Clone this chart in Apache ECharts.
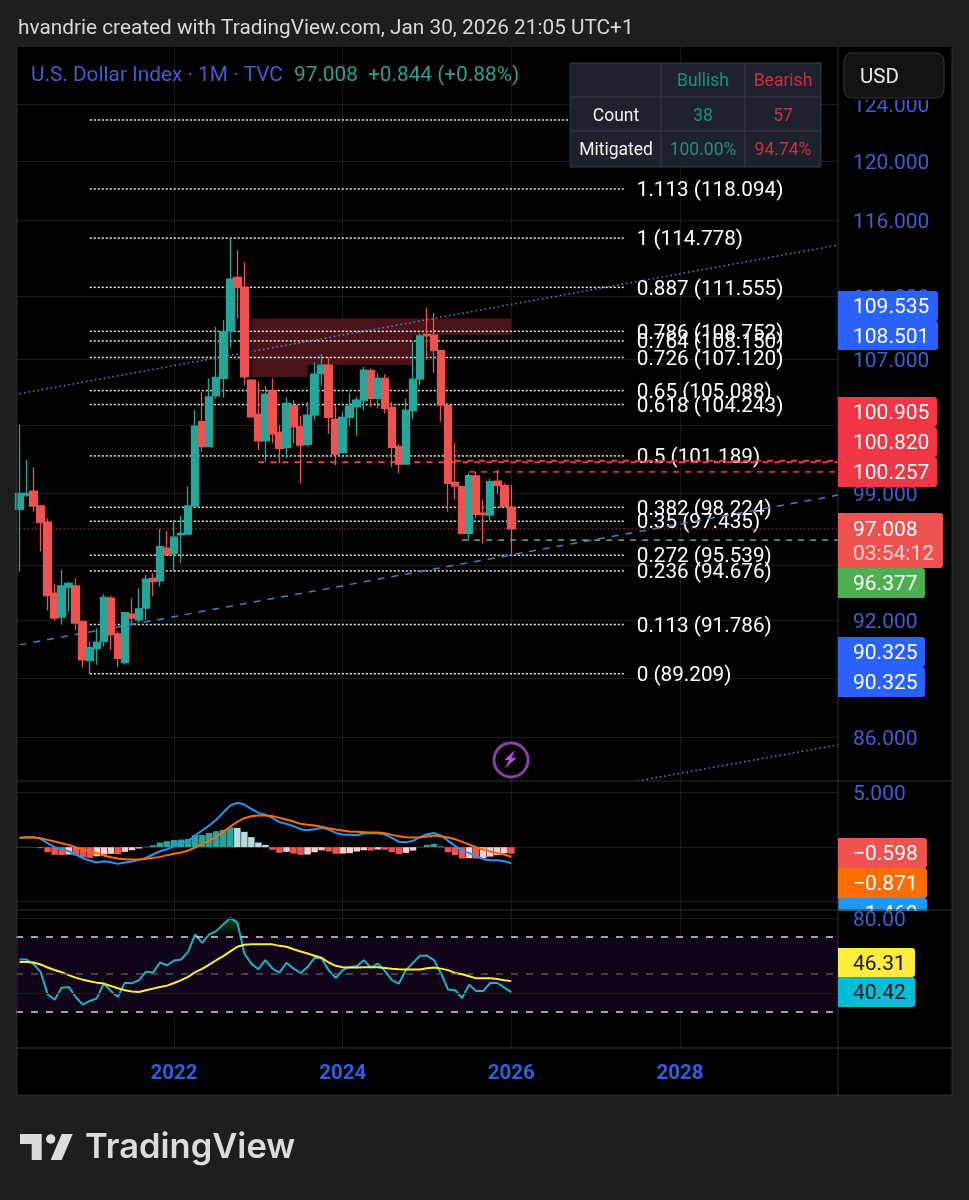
<!DOCTYPE html>
<html>
<head>
<meta charset="utf-8">
<style>html,body{margin:0;padding:0;background:#1e1e1e}#chart{width:969px;height:1200px}</style>
<script src="https://cdn.jsdelivr.net/npm/echarts@6/dist/echarts.min.js"></script>
</head>
<body>
<div id="chart"></div>
<script>
// monthly candles, Mar 2020 .. Jan 2026
var candleOpen = [98.11,98.92,99.15,98.30,97.38,93.46,92.18,93.76,93.86,91.94,89.89,90.52,90.89,93.19,91.29,89.79,92.34,92.03,92.66,94.27,94.13,95.93,95.65,96.67,96.72,98.30,103.21,101.73,104.77,105.83,108.77,112.20,111.53,105.73,103.65,102.08,105.07,102.58,101.68,104.17,102.91,101.87,103.61,106.13,106.65,103.35,101.38,103.47,104.11,104.47,106.30,104.61,105.83,104.07,101.73,100.71,103.87,105.79,108.56,108.52,107.54,104.17,99.65,99.40,96.76,100.02,97.89,97.79,99.73,99.46,98.22];
var candleClose = [99.02,99.02,98.30,97.38,93.33,92.13,93.86,94.00,91.86,89.93,90.57,90.85,93.23,91.24,90.01,92.42,92.13,92.62,94.22,94.09,96.02,95.56,96.54,96.76,98.30,102.95,101.73,104.71,105.89,108.73,112.08,111.56,105.93,103.51,102.08,104.87,102.48,101.64,104.31,102.91,101.83,103.61,106.09,106.65,103.47,101.30,103.47,104.15,104.51,106.34,104.61,105.83,104.01,101.70,100.71,103.91,105.79,108.47,108.47,107.54,104.21,99.59,99.44,96.76,100.04,97.83,97.81,99.69,99.46,98.26,97.008];
var candleLow = [94.64,98.82,97.97,95.74,92.53,92.00,91.77,92.48,91.50,89.53,89.19,89.67,90.62,90.45,89.55,89.67,91.77,91.86,92.03,93.28,93.82,95.56,94.64,95.13,96.67,98.25,101.44,101.70,104.61,104.65,107.75,109.57,105.42,103.45,101.54,100.85,101.93,100.76,101.05,101.93,99.59,101.73,103.31,105.38,102.48,100.66,101.34,102.95,102.38,103.91,104.11,104.01,103.71,100.53,100.18,100.68,103.38,105.42,107.00,106.17,103.21,97.97,98.69,96.72,96.35,97.60,96.21,97.47,98.98,98.30,95.56];
var candleHigh = [103.01,100.95,100.53,98.35,97.60,93.97,94.73,94.09,94.27,91.98,90.89,91.59,93.41,93.33,91.41,92.45,93.19,93.73,94.46,94.55,96.99,96.89,97.51,97.73,99.40,103.91,105.01,105.83,109.03,109.46,114.76,113.98,113.18,105.78,105.62,105.37,105.83,103.01,104.67,104.51,103.55,104.41,106.82,107.33,107.12,104.21,103.81,104.92,104.71,106.55,106.44,106.13,106.09,104.41,101.89,104.61,108.10,108.62,110.24,109.89,107.58,104.35,101.93,99.44,100.18,100.27,98.64,99.88,100.37,99.59,99.50];

var macdLine = [.86,.92,.92,.76,.37,0,-.15,-.37,-.67,-1.01,-1.22,-1.41,-1.28,-1.38,-1.53,-1.41,-1.31,-1.16,-.98,-.67,-.37,-.18,.09,.37,.55,1.07,1.53,1.99,2.51,3.18,3.82,4.07,3.91,3.52,3.15,2.97,2.69,2.29,2.14,1.93,1.65,1.56,1.65,1.77,1.62,1.31,1.16,1.13,1.10,1.25,1.28,1.28,1.16,.86,.49,.46,.58,.92,1.19,1.31,1.07,.58,.12,-.31,-.55,-.80,-1.10,-1.19,-1.19,-1.28,-1.469];
var macdSignal = [.86,.89,.89,.83,.67,.52,.37,.21,0,-.21,-.37,-.55,-.76,-.92,-1.04,-1.10,-1.13,-1.13,-1.07,-.98,-.89,-.73,-.61,-.49,-.31,-.03,.31,.61,.98,1.38,1.90,2.32,2.66,2.84,2.91,2.91,2.85,2.69,2.54,2.35,2.14,2.05,1.99,1.87,1.74,1.62,1.53,1.44,1.41,1.38,1.35,1.35,1.28,1.13,1.01,.92,.89,.92,.98,1.07,1.01,.89,.73,.49,.24,0,-.21,-.40,-.55,-.67,-.871];
var macdHist = [.03,.03,.02,-.09,-.46,-.70,-.73,-.67,-.76,-.92,-.98,-.83,-.67,-.61,-.64,-.43,-.28,-.12,.06,.18,.43,.55,.67,.70,.76,1.10,1.13,1.31,1.47,1.59,1.83,1.77,1.41,.92,.43,.21,-.24,-.52,-.43,-.58,-.70,-.67,-.46,-.28,-.40,-.61,-.58,-.55,-.40,-.28,-.31,-.21,-.24,-.46,-.64,-.52,-.31,.03,.21,.31,.06,-.46,-.73,-1.04,-1.01,-1.04,-1.01,-.86,-.73,-.55,-.598];

var rsiLine = [57.9,57.9,55.4,51.3,39.2,36.4,42.8,43.2,37.8,33.7,35.7,37.1,45.0,41.0,37.8,45.5,45.2,46.8,51.3,50.9,56.3,54.8,57.3,57.9,62.0,71.3,66.8,71.3,73.1,76.7,80.1,77.8,61.1,55.7,52.7,57.5,53.0,50.9,56.1,53.0,50.7,53.9,58.8,58.4,52.2,48.0,52.2,53.9,54.3,57.5,53.6,55.7,51.8,46.8,45.0,52.2,56.1,59.9,60.0,57.5,50.4,41.8,41.4,37.3,44.4,41.0,41.0,45.3,45.3,42.8,40.42];
var rsiMa = [56.5,56.5,56.3,55.2,53.6,52.3,51.1,49.5,48.2,47.1,46.2,45.5,45.0,43.7,42.5,41.4,40.7,40.5,41.4,42.3,43.2,43.9,45.3,46.8,48.6,51.1,52.9,55.2,57.5,59.7,62.2,64.7,65.8,66.1,66.1,66.1,66.0,65.2,64.7,63.4,62.2,61.1,59.9,58.8,56.3,54.5,53.8,53.6,53.6,53.8,53.8,53.8,53.4,53.0,52.7,52.5,52.5,52.5,53.2,53.6,53.0,52.2,50.7,50.0,48.9,47.8,47.8,47.8,47.5,46.8,46.31];

var fibRatios = ['1.272','1.113','1','0.887','0.786','0.764','0.726','0.65','0.618','0.5','0.382','0.35','0.272','0.236','0.113','0'];
var fibPrices = [122.9,118.094,114.778,111.555,108.752,108.150,107.120,105.088,104.243,101.189,98.224,97.435,95.539,94.676,91.786,89.209];

var priceTicks = [124,120,116,111,107,103,99,95,92,89,86];
var macdTicks = [5,0,-5];
var rsiTicks = [80,40];

// months Mar 2020 .. Nov 2029
var months = [];
for (var i = 0; i < 117; i++) {
  var m = 2 + i;
  months.push((2020 + Math.floor(m / 12)) + '-' + ('0' + (m % 12 + 1)).slice(-2));
}

var UP = '#26a69a', DOWN = '#ef5350', GRID = '#1b1b1b', AXIS = '#3f5fcf';
var FONT = 'Roboto, sans-serif';

function isYearTick(i, name) {
  var y = parseInt(name.slice(0, 4), 10);
  return name.slice(5) === '01' && y % 2 === 0;
}

// [x0, price0, x1, price1] line pieces on the main pane
function segments(name, data, style, z) {
  return {
    name: name, type: 'custom', xAxisIndex: 0, yAxisIndex: 0, z: z, silent: true, clip: true,
    encode: { x: [0, 2], y: [1, 3] }, data: data,
    renderItem: function (params, api) {
      var a = api.coord([api.value(0), api.value(1)]);
      var b = api.coord([api.value(2), api.value(3)]);
      return { type: 'line', shape: { x1: a[0], y1: a[1], x2: b[0], y2: b[1] }, style: style };
    }
  };
}

var fibData = fibPrices.map(function (p, i) { return [10, p, fibRatios[i]]; });

var histColor = macdHist.map(function (v, i) {
  var prev = i ? macdHist[i - 1] : 0;
  if (v >= 0) return v >= prev ? UP : '#b2dfdb';
  return v < prev ? DOWN : '#ffcdd2';
});

var series = [
  {
    name: 'Bearish block', type: 'custom', xAxisIndex: 0, yAxisIndex: 0, z: 1, silent: true,
    encode: { x: [0, 2], y: [1, 3] },
    data: [[33, 109.57, 70, 108.52], [33, 108.52, 56, 106.65], [33, 106.65, 41, 105.91]],
    renderItem: function (params, api) {
      var a = api.coord([api.value(0), api.value(1)]);
      var b = api.coord([api.value(2), api.value(3)]);
      return { type: 'rect', shape: { x: a[0], y: a[1], width: b[0] - a[0], height: b[1] - a[1] }, style: { fill: '#4a1219' } };
    }
  },
  {
    name: 'Fib', type: 'custom', xAxisIndex: 0, yAxisIndex: 0, z: 2, silent: true, clip: false,
    encode: { x: 0, y: 1 }, data: fibData,
    renderItem: function (params, api) {
      var a = api.coord([api.value(0), api.value(1)]);
      var b = api.coord([86, api.value(1)]);
      var lab = api.coord([88, api.value(1)]);
      var i = params.dataIndex;
      return {
        type: 'group', children: [
          { type: 'line', shape: { x1: a[0], y1: a[1], x2: b[0], y2: b[1] }, style: { stroke: '#eeeeee', lineWidth: 1.5, lineDash: [2, 2] } },
          { type: 'text', style: { x: lab[0] - 1, y: lab[1] + 2, text: fibRatios[i] + ' (' + fibPrices[i].toFixed(3) + ')', fill: '#ffffff', font: '20.7px ' + FONT, textVerticalAlign: 'middle' } }
        ]
      };
    }
  },
  segments('Trend upper', [[0, 104.9, 117, 114.36]], { stroke: '#5c86c8', lineWidth: 1.5, lineDash: [1.5, 3] }, 2),
  segments('Trend lower', [[0, 90.71, 117, 98.96]], { stroke: '#3f7fc8', lineWidth: 1.5, lineDash: [7, 7] }, 2),
  segments('Trend bottom', [[88, 83.84, 117, 85.64]], { stroke: '#5c86c8', lineWidth: 1.5, lineDash: [1.5, 3] }, 2),
  segments('Supply 1', [[34, 100.82, 117, 100.82]], { stroke: '#f23645', lineWidth: 2, lineDash: [6, 6] }, 2),
  segments('Supply 2', [[62, 100.905, 117, 100.905]], { stroke: '#f23645', lineWidth: 2, lineDash: [6, 6] }, 2),
  segments('Supply 3', [[64, 100.257, 117, 100.257]], { stroke: '#f23645', lineWidth: 1.5, lineDash: [6, 6] }, 2),
  segments('Demand', [[63, 96.377, 117, 96.377]], { stroke: '#5fae6a', lineWidth: 1.5, lineDash: [6, 6] }, 2),
  segments('Last price', [[0, 97.008, 117, 97.008]], { stroke: '#a8443f', lineWidth: 1, lineDash: [1.5, 2.5] }, 2),
  {
    name: 'DXY', type: 'candlestick', xAxisIndex: 0, yAxisIndex: 0, z: 3, barWidth: 8,
    data: candleOpen.map(function (o, i) { return [o, candleClose[i], candleLow[i], candleHigh[i]]; }),
    itemStyle: { color: UP, color0: DOWN, borderColor: UP, borderColor0: DOWN, borderWidth: 1.3 }
  },
  {
    name: 'Histogram', type: 'bar', xAxisIndex: 1, yAxisIndex: 1, barWidth: 6.5, z: 2,
    data: macdHist.map(function (v, i) { return { value: v, itemStyle: { color: histColor[i] } }; })
  },
  { name: 'MACD', type: 'line', xAxisIndex: 1, yAxisIndex: 1, data: macdLine, symbol: 'none', z: 3, lineStyle: { color: '#2196f3', width: 2 } },
  { name: 'Signal', type: 'line', xAxisIndex: 1, yAxisIndex: 1, data: macdSignal, symbol: 'none', z: 4, lineStyle: { color: '#ff6d00', width: 2 } },
  {
    name: 'Overbought', type: 'custom', xAxisIndex: 2, yAxisIndex: 2, z: 2, silent: true,
    encode: { x: 0, y: 1 }, data: [[27, 70]],
    renderItem: function (params, api) {
      var pts = [api.coord([27, 71.3]), api.coord([28, 73.1]), api.coord([29, 76.7]), api.coord([30, 80.1]), api.coord([31, 77.8]), api.coord([31.47, 70]), api.coord([27, 70])];
      return { type: 'polygon', shape: { points: pts }, style: { fill: new echarts.graphic.LinearGradient(0, 0, 0, 1, [{ offset: 0, color: 'rgba(30,160,80,.45)' }, { offset: 1, color: 'rgba(30,160,80,0)' }]) } };
    }
  },
  {
    name: 'RSI', type: 'line', xAxisIndex: 2, yAxisIndex: 2, data: rsiLine, symbol: 'none', z: 3, lineStyle: { color: '#22b0c4', width: 2 },
    markArea: { silent: true, itemStyle: { color: '#100418' }, data: [[{ yAxis: 70 }, { yAxis: 30 }]] },
    markLine: {
      silent: true, symbol: 'none', label: { show: false },
      data: [
        { yAxis: 70, lineStyle: { color: '#d8d8d8', type: [7, 8], width: 1.5 } },
        { yAxis: 50, lineStyle: { color: '#57525c', type: [7, 8], width: 1.5 } },
        { yAxis: 30, lineStyle: { color: '#d8d8d8', type: [7, 8], width: 1.5 } }
      ]
    }
  },
  { name: 'RSI MA', type: 'line', xAxisIndex: 2, yAxisIndex: 2, data: rsiMa, symbol: 'none', z: 4, lineStyle: { color: '#ffeb3b', width: 2 } }
];

function xAxisFor(idx, showLabel) {
  return {
    type: 'category', gridIndex: idx, data: months, boundaryGap: true,
    axisLine: { show: false }, axisTick: { show: false },
    axisLabel: {
      show: showLabel, interval: isYearTick, margin: 15, color: '#2f5ee0',
      fontFamily: FONT, fontSize: 20.5, fontWeight: 'bold',
      formatter: function (v) { return v.slice(0, 4); }
    },
    splitLine: { show: true, interval: isYearTick, alignWithLabel: true, lineStyle: { color: GRID } }
  };
}

function yAxisFor(idx, extra) {
  var tickVals = extra.ticks;
  return Object.assign({
    gridIndex: idx, position: 'right', scale: true,
    axisLine: { show: false },
    axisTick: { show: false, customValues: tickVals },
    axisLabel: {
      customValues: tickVals, margin: 15, color: AXIS, fontFamily: FONT, fontSize: 21,
      formatter: function (v) { return '{a|' + extra.fmt(v) + '}'; },
      rich: { a: { color: AXIS, fontFamily: FONT, fontSize: 21, padding: [5, 0, 0, 0] } }
    },
    splitLine: { show: true, lineStyle: { color: GRID } }
  }, extra.axis);
}

// ---- page furniture, tags and the table
function txt(x, y, text, fill, font, align, z) {
  return { type: 'text', z: z || 100, style: { x: x, y: y, text: text, fill: fill, font: font || '21px ' + FONT, textAlign: align || 'left', textVerticalAlign: 'middle' } };
}
function box(x, y, w, h, fill, z, r, stroke) {
  return { type: 'rect', z: z || 100, shape: { x: x, y: y, width: w, height: h, r: r || 0 }, style: { fill: fill, stroke: stroke || null, lineWidth: stroke ? 1 : 0 } };
}
function rule(x1, y1, x2, y2, color, z) {
  return { type: 'line', z: z || 90, shape: { x1: x1, y1: y1, x2: x2, y2: y2 }, style: { stroke: color, lineWidth: 1 } };
}
function tag(y, h, w, fill, text, color, z) {
  return [
    box(838, y, w, h, fill, z || 100, [0, 3, 3, 0]),
    txt(853, y + h / 2 + 2, text, color || '#ffffff', '21px ' + FONT, 'left', (z || 100) + 1)
  ];
}

var graphics = [
  box(17, 47, 935, 1048, '#000000', -10),
  rule(17, 781, 952, 781, '#2f3138'), rule(17, 910, 952, 910, '#2f3138'), rule(17, 1048, 952, 1048, '#2f3138'),
  rule(838, 47, 838, 1095, '#2f3138'),
  rule(17, 47, 17, 1095, '#303030'), rule(952, 47, 952, 1095, '#303030'), rule(17, 1095, 952, 1095, '#303030'),
  txt(18, 29, 'hvandrie created with TradingView.com, Jan 30, 2026 21:05 UTC+1', '#d8d8d8', '20.8px ' + FONT),
  txt(31, 76, 'U.S. Dollar Index · 1M · TVC', '#3f5fcf', '20.8px ' + FONT),
  txt(294, 76, '97.008', '#2f9e8c', '20.8px ' + FONT),
  txt(368, 76, '+0.844 (+0.88%)', '#2f9e8c', '20.8px ' + FONT),

  // USD button, the box above it cuts the 124 label
  box(839, 48, 112, 52, '#000000', 95),
  box(844, 53, 100, 45, '#131313', 96, 8, '#363636'),
  txt(860, 78, 'USD', '#e8e8e8', '20.5px ' + FONT, 'left', 97),

  // stats table
  box(570, 63, 251, 104, '#1e222d', 100, 0, '#363a45'),
  rule(661, 63, 661, 167, '#363a45', 101), rule(745, 63, 745, 167, '#363a45', 101),
  rule(570, 97, 821, 97, '#363a45', 101), rule(570, 131, 821, 131, '#363a45', 101),
  txt(703, 82, 'Bullish', '#1f8f7f', '17.5px ' + FONT, 'center', 102),
  txt(783, 82, 'Bearish', '#c8304a', '17.5px ' + FONT, 'center', 102),
  txt(616, 117, 'Count', '#f0f0f0', '17.5px ' + FONT, 'center', 102),
  txt(703, 117, '38', '#1f8f7f', '17.5px ' + FONT, 'center', 102),
  txt(783, 117, '57', '#c8304a', '17.5px ' + FONT, 'center', 102),
  txt(616, 151, 'Mitigated', '#f0f0f0', '17.5px ' + FONT, 'center', 102),
  txt(703, 151, '100.00%', '#1f8f7f', '17.5px ' + FONT, 'center', 102),
  txt(783, 151, '94.74%', '#c8304a', '17.5px ' + FONT, 'center', 102),

  // lightning mark
  { type: 'circle', z: 100, shape: { cx: 511, cy: 760, r: 17 }, style: { fill: '#000000', stroke: '#8a3fa8', lineWidth: 3 } },
  { type: 'polygon', z: 101, shape: { points: [[515, 750], [504.3, 760], [509, 760], [505, 768.3], [516.7, 757.7], [511.7, 757.7]] }, style: { fill: '#b44fd0' } },

  // logo
  { type: 'polygon', z: 100, shape: { points: [[20, 1134], [41.7, 1134], [41.7, 1160], [31.7, 1160], [31.7, 1144], [20, 1144]] }, style: { fill: '#dcdcdc' } },
  { type: 'circle', z: 100, shape: { cx: 50.7, cy: 1139, r: 4.7 }, style: { fill: '#dcdcdc' } },
  { type: 'polygon', z: 100, shape: { points: [[61.7, 1134], [72.7, 1134], [61.7, 1160], [50.7, 1160]] }, style: { fill: '#dcdcdc' } },
  txt(85, 1148, 'TradingView', '#dcdcdc', '600 34.5px Inter, sans-serif')
];
graphics = graphics.concat(
  tag(291, 30, 100, '#2962ff', '109.535'), tag(321, 29, 100, '#2962ff', '108.501'),
  tag(397, 30, 99, '#f23645', '100.905'), tag(427, 30, 99, '#f23645', '100.820'), tag(457, 30, 99, '#f23645', '100.257'),
  [box(838, 513, 105, 55, '#ef5350', 100, [0, 3, 3, 0]), txt(853, 531, '97.008', '#ffffff', '21px ' + FONT, 'left', 101), txt(853, 555, '03:54:12', '#ffd3d3', '21px ' + FONT, 'left', 101)],
  tag(568, 30, 87, '#4caf50', '96.377'),
  tag(637, 30, 87, '#2962ff', '90.325'), tag(667, 30, 87, '#2962ff', '90.325'),
  tag(838, 30, 89, '#ef5350', '−0.598'), tag(868, 30, 89, '#ff6d00', '−0.871'),
  tag(898, 30, 89, '#2196f3', '−1.469', '#ffffff', 50),
  [box(837, 911, 114, 20, '#000000', 52)],
  tag(948, 29, 77, '#ffeb3b', '46.31', '#131722'), tag(977, 30, 77, '#00bcd4', '40.42', '#131722')
);

var option = {
  backgroundColor: '#1e1e1e',
  animation: false,
  grid: [
    { left: 16, width: 822, top: 47, height: 734 },
    { left: 16, width: 822, top: 781, height: 129 },
    { left: 16, width: 822, top: 910, height: 138 }
  ],
  xAxis: [xAxisFor(0, false), xAxisFor(1, false), xAxisFor(2, true)],
  yAxis: [
    yAxisFor(0, { ticks: priceTicks, fmt: function (v) { return (+v).toFixed(3); }, axis: { type: 'log', min: 83.84, max: 128.2 } }),
    yAxisFor(1, { ticks: macdTicks, fmt: function (v) { return (+v).toFixed(3); }, axis: { type: 'value', min: -5.76, max: 6.07 } }),
    yAxisFor(2, { ticks: rsiTicks, fmt: function (v) { return (+v).toFixed(2); }, axis: { type: 'value', min: 10.5, max: 84.4, z: 60 } })
  ],
  series: series,
  graphic: { elements: graphics }
};

var myChart = echarts.init(document.getElementById('chart'));
myChart.setOption(option);
</script>
</body>
</html>
